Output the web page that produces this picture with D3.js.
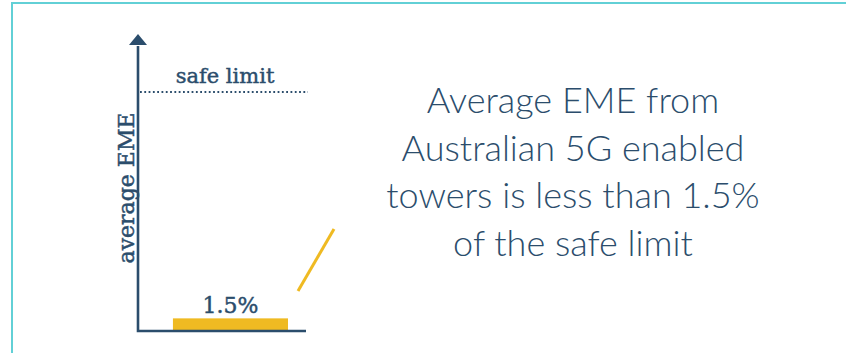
<!DOCTYPE html>
<html>
<head>
<meta charset="utf-8">
<script src="https://cdn.jsdelivr.net/npm/d3@7"></script>
<style>
  body { margin: 0; background: #fff; }
  svg { display: block; }
</style>
</head>
<body>
<svg width="846" height="353"></svg>
<script>
// data
const categories = ["5G towers"]
const values = [1.5]            // % of safe limit
const safeLimit = [100]
const barLabels = ["1.5%"]
const limitLabel = "safe limit"
const axisLabel = "average EME"
const headline = ["Average EME from", "Australian 5G enabled", "towers is less than 1.5%", "of the safe limit"]

const navy = "#2b4d6c"
const gold = "#efba22"
const teal = "#62d0d6"

const svg = d3.select("svg")

// frame (teal rule top + left)
svg.append("path")
  .attr("d", "M12,353 L12,3 L846,3")
  .attr("fill", "none")
  .attr("stroke", teal)
  .attr("stroke-width", 2)

const x0 = 138, x1 = 306, yBase = 331
const xScale = d3.scaleBand().domain(categories).range([x0, x1])
  .paddingInner(0).paddingOuter(0.23).align(0.66)
// the infographic squashes the range so the tiny bar stays visible
const yScale = d3.scalePow().exponent(0.7).domain([0, 100]).range([yBase, 92])

// heavier serif like the original slab face
const serif = sel => sel
  .attr("font-family", "DejaVu Serif")
  .attr("fill", navy)
  .attr("stroke", navy)
  .attr("stroke-width", 0.45)

// dotted safe limit
svg.selectAll(".limit").data(safeLimit).enter().append("line")
  .attr("class", "limit")
  .attr("x1", x0 + 2).attr("x2", x1 + 2)
  .attr("y1", d => yScale(d)).attr("y2", d => yScale(d))
  .attr("stroke", navy).attr("stroke-width", 2)
  .attr("stroke-dasharray", "1.8 2.5")

svg.append("text")
  .attr("x", 225).attr("y", yScale(100) - 9)
  .attr("text-anchor", "middle")
  .attr("font-size", 21)
  .call(serif)
  .text(limitLabel)

// bar
svg.selectAll(".bar").data(values).enter().append("rect")
  .attr("class", "bar")
  .attr("x", (d, i) => xScale(categories[i]))
  .attr("width", xScale.bandwidth())
  .attr("y", d => yScale(d))
  .attr("height", d => yBase - yScale(d))
  .attr("fill", gold)

svg.selectAll(".barLabel").data(values).enter().append("text")
  .attr("class", "barLabel")
  .attr("x", (d, i) => xScale(categories[i]) + xScale.bandwidth() / 2)
  .attr("y", d => yScale(d) - 5)
  .attr("text-anchor", "middle")
  .attr("font-size", 22)
  .call(serif)
  .text((d, i) => barLabels[i])

// axes
svg.append("path")
  .attr("d", `M${x0},46 L${x0},${yBase} L${x1},${yBase}`)
  .attr("fill", "none")
  .attr("stroke", navy)
  .attr("stroke-width", 2.6)
svg.append("path")
  .attr("d", `M${x0},34 L${x0 + 9},45 L${x0 - 9},45 Z`)
  .attr("fill", navy)

svg.append("text")
  .attr("transform", `translate(134,188) rotate(-90)`)
  .attr("text-anchor", "middle")
  .attr("font-size", 22)
  .call(serif)
  .text(axisLabel)

// gold pointer
svg.append("line")
  .attr("x1", 298).attr("y1", 291)
  .attr("x2", 334).attr("y2", 229)
  .attr("stroke", gold).attr("stroke-width", 3)

// headline
svg.append("text")
  .attr("font-family", "Lato")
  .attr("font-weight", 300)
  .attr("font-size", 36)
  .attr("fill", navy)
  .attr("text-anchor", "middle")
  .selectAll("tspan").data(headline).enter().append("tspan")
  .attr("x", 573)
  .attr("y", (d, i) => 113 + i * 47.5)
  .text(d => d)
</script>
</body>
</html>
